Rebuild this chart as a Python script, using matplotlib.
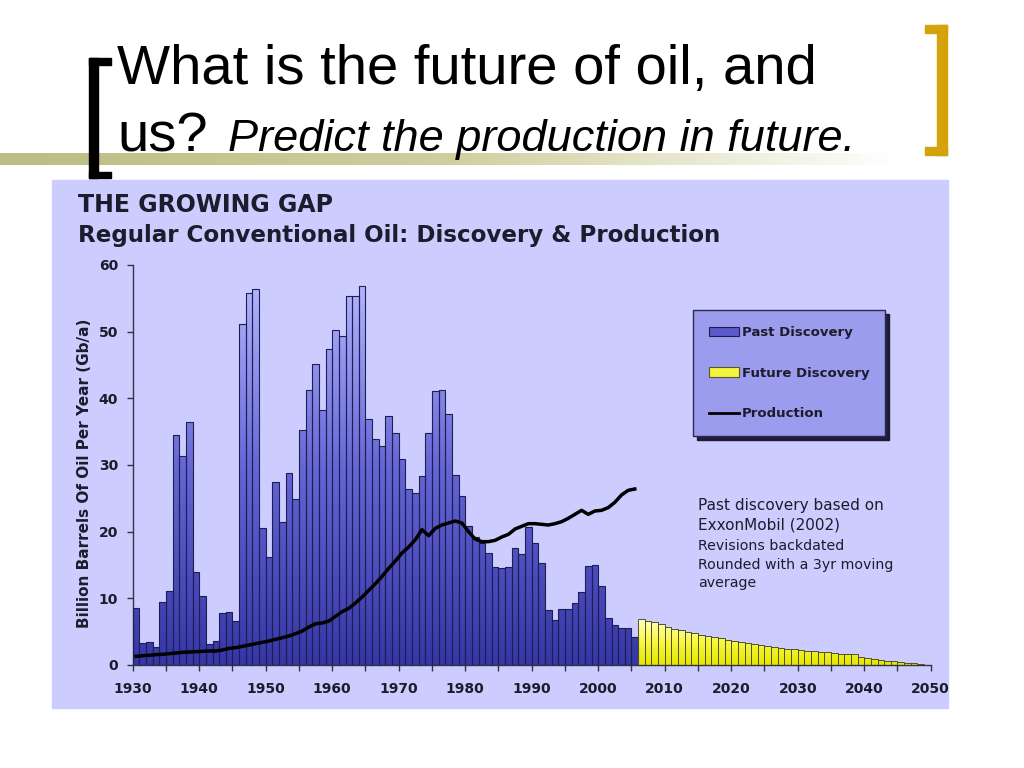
import numpy as np
import matplotlib
matplotlib.use("Agg")
import matplotlib.pyplot as plt
from matplotlib.path import Path
from matplotlib.patches import PathPatch, Rectangle, Patch
from matplotlib.lines import Line2D
from matplotlib.colors import LinearSegmentedColormap

plt.rcParams['font.family'] = ['DejaVu Sans']
SLIDE_FONT = ['Liberation Sans', 'DejaVu Sans']

# ---- data (Gb/a) ----
past_years = list(range(1930, 2006))
past_discovery = [
    8.6, 3.35, 3.5, 2.65, 9.5, 11.15, 34.5, 31.35, 36.4, 14.0,
    10.35, 3.15, 3.6, 7.85, 8.0, 6.6, 51.1, 55.75, 56.4, 20.5,
    16.25, 27.5, 21.5, 28.75, 24.9, 35.2, 41.3, 45.1, 38.2, 47.35,
    50.2, 49.3, 55.3, 55.4, 56.85, 36.85, 33.9, 32.9, 37.4, 34.85,
    30.9, 26.35, 25.85, 28.4, 34.85, 41.15, 41.25, 37.65, 28.5, 25.35,
    20.85, 19.25, 18.25, 16.85, 14.65, 14.5, 14.75, 17.5, 16.65, 20.65,
    18.25, 15.25, 8.25, 6.75, 8.35, 8.35, 9.35, 10.9, 14.85, 15.0,
    11.9, 7.1, 6.0, 5.6, 5.6, 4.15,
]
future_years = list(range(2006, 2049))
future_discovery = [
    6.9, 6.65, 6.4, 6.15, 5.75, 5.4, 5.25, 5.0, 4.75, 4.55,
    4.4, 4.2, 4.0, 3.75, 3.6, 3.45, 3.3, 3.1, 2.95, 2.8,
    2.7, 2.6, 2.45, 2.4, 2.3, 2.15, 2.1, 2.0, 1.9, 1.75,
    1.7, 1.65, 1.6, 1.25, 1.1, 0.9, 0.75, 0.6, 0.55, 0.4,
    0.35, 0.25, 0.15,
]
production = [
    1.3, 1.4, 1.45, 1.55, 1.6, 1.7, 1.8, 1.9, 1.95, 2.0,
    2.05, 2.1, 2.1, 2.25, 2.5, 2.6, 2.8, 3.0, 3.2, 3.4,
    3.6, 3.85, 4.1, 4.35, 4.7, 5.1, 5.7, 6.2, 6.3, 6.6,
    7.3, 8.0, 8.5, 9.3, 10.2, 11.2, 12.2, 13.3, 14.5, 15.6,
    16.8, 17.7, 18.8, 20.3, 19.4, 20.5, 21.0, 21.3, 21.6, 21.3,
    20.0, 18.9, 18.5, 18.5, 18.7, 19.2, 19.6, 20.4, 20.8, 21.2,
    21.2, 21.1, 21.0, 21.2, 21.5, 22.0, 22.6, 23.2, 22.6, 23.1,
    23.2, 23.6, 24.4, 25.5, 26.2, 26.4,
]

W, H = 1024, 768
fig = plt.figure(figsize=(W / 100, H / 100), dpi=100, facecolor='white')

# background axes in pixel coordinates for the slide decoration
bg = fig.add_axes([0, 0, 1, 1], zorder=-1)
bg.axis('off')

# olive band fading to white
band = LinearSegmentedColormap.from_list('band', ['#bcbc84', '#cfcf9e', '#ffffff'])
bg.imshow(np.linspace(0, 1, 256).reshape(1, -1), cmap=band, aspect='auto',
          extent=[0, 900, 165, 153], zorder=1)
bg.set_xlim(0, W)
bg.set_ylim(H, 0)

# black left bracket
bg.add_patch(Rectangle((89, 58), 9, 120, color='black', zorder=3))
bg.add_patch(Rectangle((89, 58), 22, 7, color='black', zorder=3))
bg.add_patch(Rectangle((89, 172), 22, 6, color='black', zorder=3))
# gold right bracket
gold = '#d4a20a'
bg.add_patch(Rectangle((937, 25), 10, 130, color=gold, zorder=3))
bg.add_patch(Rectangle((925, 25), 22, 8, color=gold, zorder=3))
bg.add_patch(Rectangle((925, 147), 22, 8, color=gold, zorder=3))

# slide title
bg.text(117, 84, 'What is the future of oil, and', fontsize=40.5, va='baseline', ha='left',
        color='black', family=SLIDE_FONT)
bg.text(117, 151, 'us?', fontsize=40.5, va='baseline', ha='left', color='black', family=SLIDE_FONT)
bg.text(228, 151, 'Predict the production in future.', fontsize=32.5, style='italic',
        va='baseline', ha='left', color='black', family=SLIDE_FONT)

# lavender chart panel
bg.add_patch(Rectangle((52, 180), 896, 528, color='#ccccff', zorder=2))
tcol = '#1c1c2c'
bg.text(78, 212, 'THE GROWING GAP', fontsize=17, fontweight='bold', va='baseline', color=tcol, zorder=4)
bg.text(78, 242, 'Regular Conventional Oil: Discovery & Production', fontsize=16.6,
        fontweight='bold', va='baseline', color=tcol, zorder=4)

notes = [('Past discovery based on', 11, 510),
         ('ExxonMobil (2002)', 11, 530),
         ('Revisions backdated', 10.2, 550),
         ('Rounded with a 3yr moving', 10.2, 569),
         ('average', 10.2, 587)]
for txt, fs, yb in notes:
    bg.text(698, yb, txt, fontsize=fs, va='baseline', color=tcol, zorder=4)

# ---- chart axes ----
ax = fig.add_axes([132.7 / W, (H - 665) / H, 798 / W, 400 / H])
ax.set_facecolor('none')

edge = '#1e1e50'
past_bars = ax.bar(past_years, past_discovery, width=1.0, align='edge',
                   facecolor='none', edgecolor=edge, linewidth=0.8, zorder=3)
future_bars = ax.bar(future_years, future_discovery, width=1.0, align='edge',
                     facecolor='none', edgecolor='#505030', linewidth=0.7, zorder=3)


def gradient_fill(bars, colors, ymax):
    paths = [b.get_path().transformed(b.get_patch_transform()) for b in bars]
    clip = PathPatch(Path.make_compound_path(*paths), transform=ax.transData,
                     facecolor='none', edgecolor='none')
    ax.add_patch(clip)
    cmap = LinearSegmentedColormap.from_list('g', colors)
    x0 = bars[0].get_x()
    x1 = bars[-1].get_x() + bars[-1].get_width()
    im = ax.imshow(np.linspace(0, 1, 256).reshape(-1, 1), cmap=cmap, aspect='auto',
                   origin='lower', extent=[x0, x1, 0, ymax], zorder=2)
    im.set_clip_path(clip)


gradient_fill(past_bars, ['#3636a6', '#6464d4', '#b4b8ff'], 58)
gradient_fill(future_bars, ['#e6e600', '#f8f840', '#ffffc8'], 7)

prod_x = [y + 0.5 for y in past_years]
ax.plot(prod_x, production, color='black', linewidth=2.5, zorder=4)

ax.set_xlim(1930, 2050)
ax.set_ylim(0, 60)
ax.set_xticks(range(1930, 2051, 10))
ax.set_xticks(range(1935, 2050, 10), minor=True)
ax.set_yticks(range(0, 61, 10))
for s in ['top', 'right']:
    ax.spines[s].set_visible(False)
for s in ['left', 'bottom']:
    ax.spines[s].set_color('#333344')
    ax.spines[s].set_linewidth(1.0)
ax.tick_params(axis='both', which='both', direction='out', length=4.5, width=1,
               color='#333344', labelcolor=tcol, labelsize=10)
ax.tick_params(axis='x', pad=8)
ax.tick_params(axis='y', pad=6)
for lab in ax.get_xticklabels() + ax.get_yticklabels():
    lab.set_fontweight('bold')

ax.set_ylabel('Billion Barrels Of Oil Per Year (Gb/a)', fontsize=11, fontweight='bold', color=tcol)
ax.yaxis.set_label_coords(-0.051, 0.478)

handles = [Patch(facecolor='#5a5acc', edgecolor=edge, linewidth=0.8),
           Patch(facecolor='#f4f440', edgecolor='#55552a', linewidth=0.8),
           Line2D([], [], color='black', linewidth=2)]
leg = ax.legend(handles, ['Past Discovery', 'Future Discovery', 'Production'],
                loc='upper left', bbox_to_anchor=((693 - 132.7) / 798, (665 - 310) / 400),
                frameon=True, fancybox=False,
                shadow={'color': '#151530', 'alpha': 0.95, 'ox': 3, 'oy': -3},
                prop={'weight': 'bold', 'size': 9.5}, labelspacing=2.1, borderpad=1.2,
                handlelength=2.3, handletextpad=0.2, borderaxespad=0)
leg.get_frame().set_facecolor('#9c9cee')
leg.get_frame().set_edgecolor('#2a2a50')
leg.get_frame().set_alpha(1)
for t in leg.get_texts():
    t.set_color(tcol)

fig.savefig('out.png', dpi=100, facecolor='white')
